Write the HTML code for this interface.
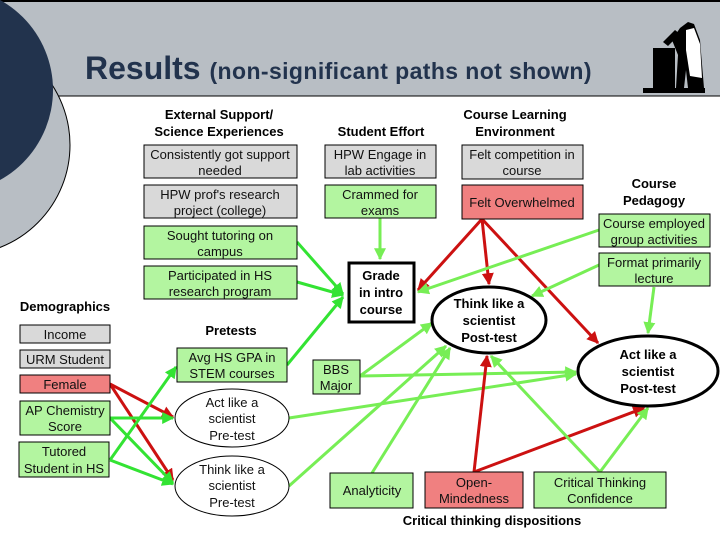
<!DOCTYPE html>
<html><head><meta charset="utf-8"><style>
body{margin:0;width:720px;height:540px;overflow:hidden;background:#fff}
svg{display:block}
text{font-family:"Liberation Sans",sans-serif}
.b{font-weight:bold;font-size:13px}
.n{font-size:13px}
</style></head><body>
<svg width="720" height="540" viewBox="0 0 720 540">
<defs>
<marker id="g" viewBox="0 0 10 10" refX="9" refY="5" markerWidth="4" markerHeight="4" orient="auto"><path d="M0,0L10,5L0,10z" fill="#33e333"/></marker>
<marker id="l" viewBox="0 0 10 10" refX="9" refY="5" markerWidth="4" markerHeight="4" orient="auto"><path d="M0,0L10,5L0,10z" fill="#77ee55"/></marker>
<marker id="r" viewBox="0 0 10 10" refX="9" refY="5" markerWidth="4" markerHeight="4" orient="auto"><path d="M0,0L10,5L0,10z" fill="#cc1111"/></marker>
</defs>
<rect x="0" y="0" width="720" height="96" fill="#b8bec4"/>
<line x1="0" y1="1" x2="720" y2="1" stroke="#000" stroke-width="2"/>
<line x1="0" y1="96" x2="720" y2="96" stroke="#000" stroke-width="1"/>
<circle cx="-40" cy="145" r="110" fill="#b8bec4" stroke="#000" stroke-width="1"/>
<circle cx="-50" cy="90" r="103" fill="#22334d"/>
<text x="85" y="79" font-size="32" font-weight="bold" fill="#22334d">Results <tspan font-size="23" letter-spacing="0.4">(non-significant paths not shown)</tspan></text>
<!-- scientist -->
<g fill="#000">
<rect x="643" y="88" width="62" height="5"/>
<rect x="653" y="48" width="22" height="42"/>
<path d="M672,40 L680,28 L688,22 L694,24 L700,40 L704,88 L688,88 L686,70 L684,88 L676,88 L678,55 Z"/>
<path d="M663,42 L675,30 L680,34 L668,46 Z"/>
</g>
<path d="M686,30 L694,28 L700,44 L702,78 L690,76 L686,50 Z" fill="#fff"/>
<!-- headers -->
<g class="b" text-anchor="middle">
<text x="219" y="119" class="b">External Support/</text>
<text x="219" y="136" class="b">Science Experiences</text>
<text x="381" y="136" class="b">Student Effort</text>
<text x="515" y="119" class="b">Course Learning</text>
<text x="515" y="136" class="b">Environment</text>
<text x="654" y="188" class="b">Course</text>
<text x="654" y="205" class="b">Pedagogy</text>
<text x="231" y="335" class="b">Pretests</text>
<text x="65" y="311" class="b">Demographics</text>
<text x="492" y="525" class="b">Critical thinking dispositions</text>
</g>
<!-- edges -->
<g stroke-width="3" fill="none">
<line x1="297" y1="242" x2="343" y2="294" stroke="#33e333" marker-end="url(#g)"/>
<line x1="297" y1="282" x2="343" y2="295" stroke="#33e333" marker-end="url(#g)"/>
<line x1="287" y1="365" x2="343" y2="297" stroke="#33e333" marker-end="url(#g)"/>
<line x1="380" y1="218" x2="380" y2="259" stroke="#77ee55" marker-end="url(#l)"/>
<line x1="482" y1="219" x2="418" y2="290" stroke="#cc1111" marker-end="url(#r)"/>
<line x1="482" y1="219" x2="489" y2="284" stroke="#cc1111" marker-end="url(#r)"/>
<line x1="482" y1="219" x2="598" y2="343" stroke="#cc1111" marker-end="url(#r)"/>
<line x1="599" y1="230" x2="418" y2="292" stroke="#77ee55" marker-end="url(#l)"/>
<line x1="599" y1="265" x2="532" y2="296" stroke="#77ee55" marker-end="url(#l)"/>
<line x1="654" y1="287" x2="648" y2="333" stroke="#77ee55" marker-end="url(#l)"/>
<line x1="360" y1="376" x2="432" y2="323" stroke="#77ee55" marker-end="url(#l)"/>
<line x1="360" y1="376" x2="576" y2="372" stroke="#77ee55" marker-end="url(#l)"/>
<line x1="289" y1="418" x2="576" y2="374" stroke="#77ee55" marker-end="url(#l)"/>
<line x1="289" y1="486" x2="446" y2="346" stroke="#77ee55" marker-end="url(#l)"/>
<line x1="372" y1="473" x2="450" y2="348" stroke="#77ee55" marker-end="url(#l)"/>
<line x1="474" y1="472" x2="487" y2="356" stroke="#cc1111" marker-end="url(#r)"/>
<line x1="474" y1="472" x2="644" y2="408" stroke="#cc1111" marker-end="url(#r)"/>
<line x1="600" y1="472" x2="491" y2="356" stroke="#77ee55" marker-end="url(#l)"/>
<line x1="600" y1="472" x2="648" y2="408" stroke="#77ee55" marker-end="url(#l)"/>
<line x1="110" y1="384" x2="173" y2="417" stroke="#cc1111" marker-end="url(#r)"/>
<line x1="110" y1="384" x2="173" y2="480" stroke="#cc1111" marker-end="url(#r)"/>
<line x1="110" y1="418" x2="173" y2="418" stroke="#33e333" marker-end="url(#g)"/>
<line x1="110" y1="418" x2="173" y2="483" stroke="#33e333" marker-end="url(#g)"/>
<line x1="110" y1="460" x2="176" y2="367" stroke="#33e333" marker-end="url(#g)"/>
<line x1="110" y1="460" x2="173" y2="484" stroke="#33e333" marker-end="url(#g)"/>
</g>
<!-- boxes -->
<g stroke="#000" stroke-width="1">
<rect x="144" y="145" width="153" height="33" fill="#d9d9d9"/>
<rect x="144" y="185" width="153" height="33" fill="#d9d9d9"/>
<rect x="144" y="226" width="153" height="33" fill="#b3f5a0"/>
<rect x="144" y="266" width="153" height="33" fill="#b3f5a0"/>
<rect x="325" y="145" width="111" height="33" fill="#d9d9d9"/>
<rect x="325" y="185" width="111" height="33" fill="#b3f5a0"/>
<rect x="462" y="145" width="121" height="34" fill="#d9d9d9"/>
<rect x="462" y="185" width="121" height="34" fill="#f08080"/>
<rect x="599" y="214" width="111" height="33" fill="#b3f5a0"/>
<rect x="599" y="253" width="111" height="33" fill="#b3f5a0"/>
<rect x="20" y="325" width="90" height="18" fill="#d9d9d9"/>
<rect x="20" y="350" width="90" height="18" fill="#d9d9d9"/>
<rect x="20" y="375" width="90" height="18" fill="#f08080"/>
<rect x="20" y="401" width="90" height="34" fill="#b3f5a0"/>
<rect x="19" y="442" width="90" height="35" fill="#b3f5a0"/>
<rect x="177" y="348" width="110" height="34" fill="#b3f5a0"/>
<rect x="313" y="360" width="47" height="34" fill="#b3f5a0"/>
<rect x="330" y="473" width="83" height="35" fill="#b3f5a0"/>
<rect x="425" y="472" width="98" height="36" fill="#f08080"/>
<rect x="534" y="472" width="132" height="36" fill="#b3f5a0"/>
<ellipse cx="232" cy="418" rx="57" ry="29" fill="#fff"/>
<ellipse cx="232" cy="486" rx="57" ry="30" fill="#fff"/>
</g>
<rect x="349" y="263" width="65" height="59" fill="#fff" stroke="#000" stroke-width="3"/>
<ellipse cx="489" cy="320" rx="57" ry="33" fill="#fff" stroke="#000" stroke-width="3"/>
<ellipse cx="648" cy="371" rx="70" ry="35" fill="#fff" stroke="#000" stroke-width="3"/>
<g class="n" text-anchor="middle" fill="#111">
<text x="220" y="159">Consistently got support</text><text x="220" y="175">needed</text>
<text x="220" y="199">HPW prof's research</text><text x="220" y="215">project (college)</text>
<text x="220" y="240">Sought tutoring on</text><text x="220" y="256">campus</text>
<text x="220" y="280">Participated in HS</text><text x="220" y="296">research program</text>
<text x="380" y="159">HPW Engage in</text><text x="380" y="175">lab activities</text>
<text x="380" y="199">Crammed for</text><text x="380" y="215">exams</text>
<text x="522" y="159">Felt competition in</text><text x="522" y="175">course</text>
<text x="522" y="207">Felt Overwhelmed</text>
<text x="654" y="228">Course employed</text><text x="654" y="244">group activities</text>
<text x="654" y="267">Format primarily</text><text x="654" y="283">lecture</text>
<text x="65" y="339">Income</text>
<text x="65" y="364">URM Student</text>
<text x="65" y="389">Female</text>
<text x="65" y="415">AP Chemistry</text><text x="65" y="431">Score</text>
<text x="64" y="456">Tutored</text><text x="64" y="473">Student in HS</text>
<text x="232" y="362">Avg HS GPA in</text><text x="232" y="378">STEM courses</text>
<text x="232" y="407">Act like a</text><text x="232" y="423">scientist</text><text x="232" y="440">Pre-test</text>
<text x="232" y="474">Think like a</text><text x="232" y="490">scientist</text><text x="232" y="507">Pre-test</text>
<text x="336" y="374">BBS</text><text x="336" y="390">Major</text>
<text x="372" y="495">Analyticity</text>
<text x="474" y="487">Open-</text><text x="474" y="503">Mindedness</text>
<text x="600" y="487">Critical Thinking</text><text x="600" y="503">Confidence</text>
</g>
<g class="b" text-anchor="middle">
<text x="381" y="280" class="b">Grade</text><text x="381" y="297" class="b">in intro</text><text x="381" y="314" class="b">course</text>
<text x="489" y="308" class="b">Think like a</text><text x="489" y="325" class="b">scientist</text><text x="489" y="342" class="b">Post-test</text>
<text x="648" y="359" class="b">Act like a</text><text x="648" y="376" class="b">scientist</text><text x="648" y="393" class="b">Post-test</text>
</g>
</svg>
</body></html>
